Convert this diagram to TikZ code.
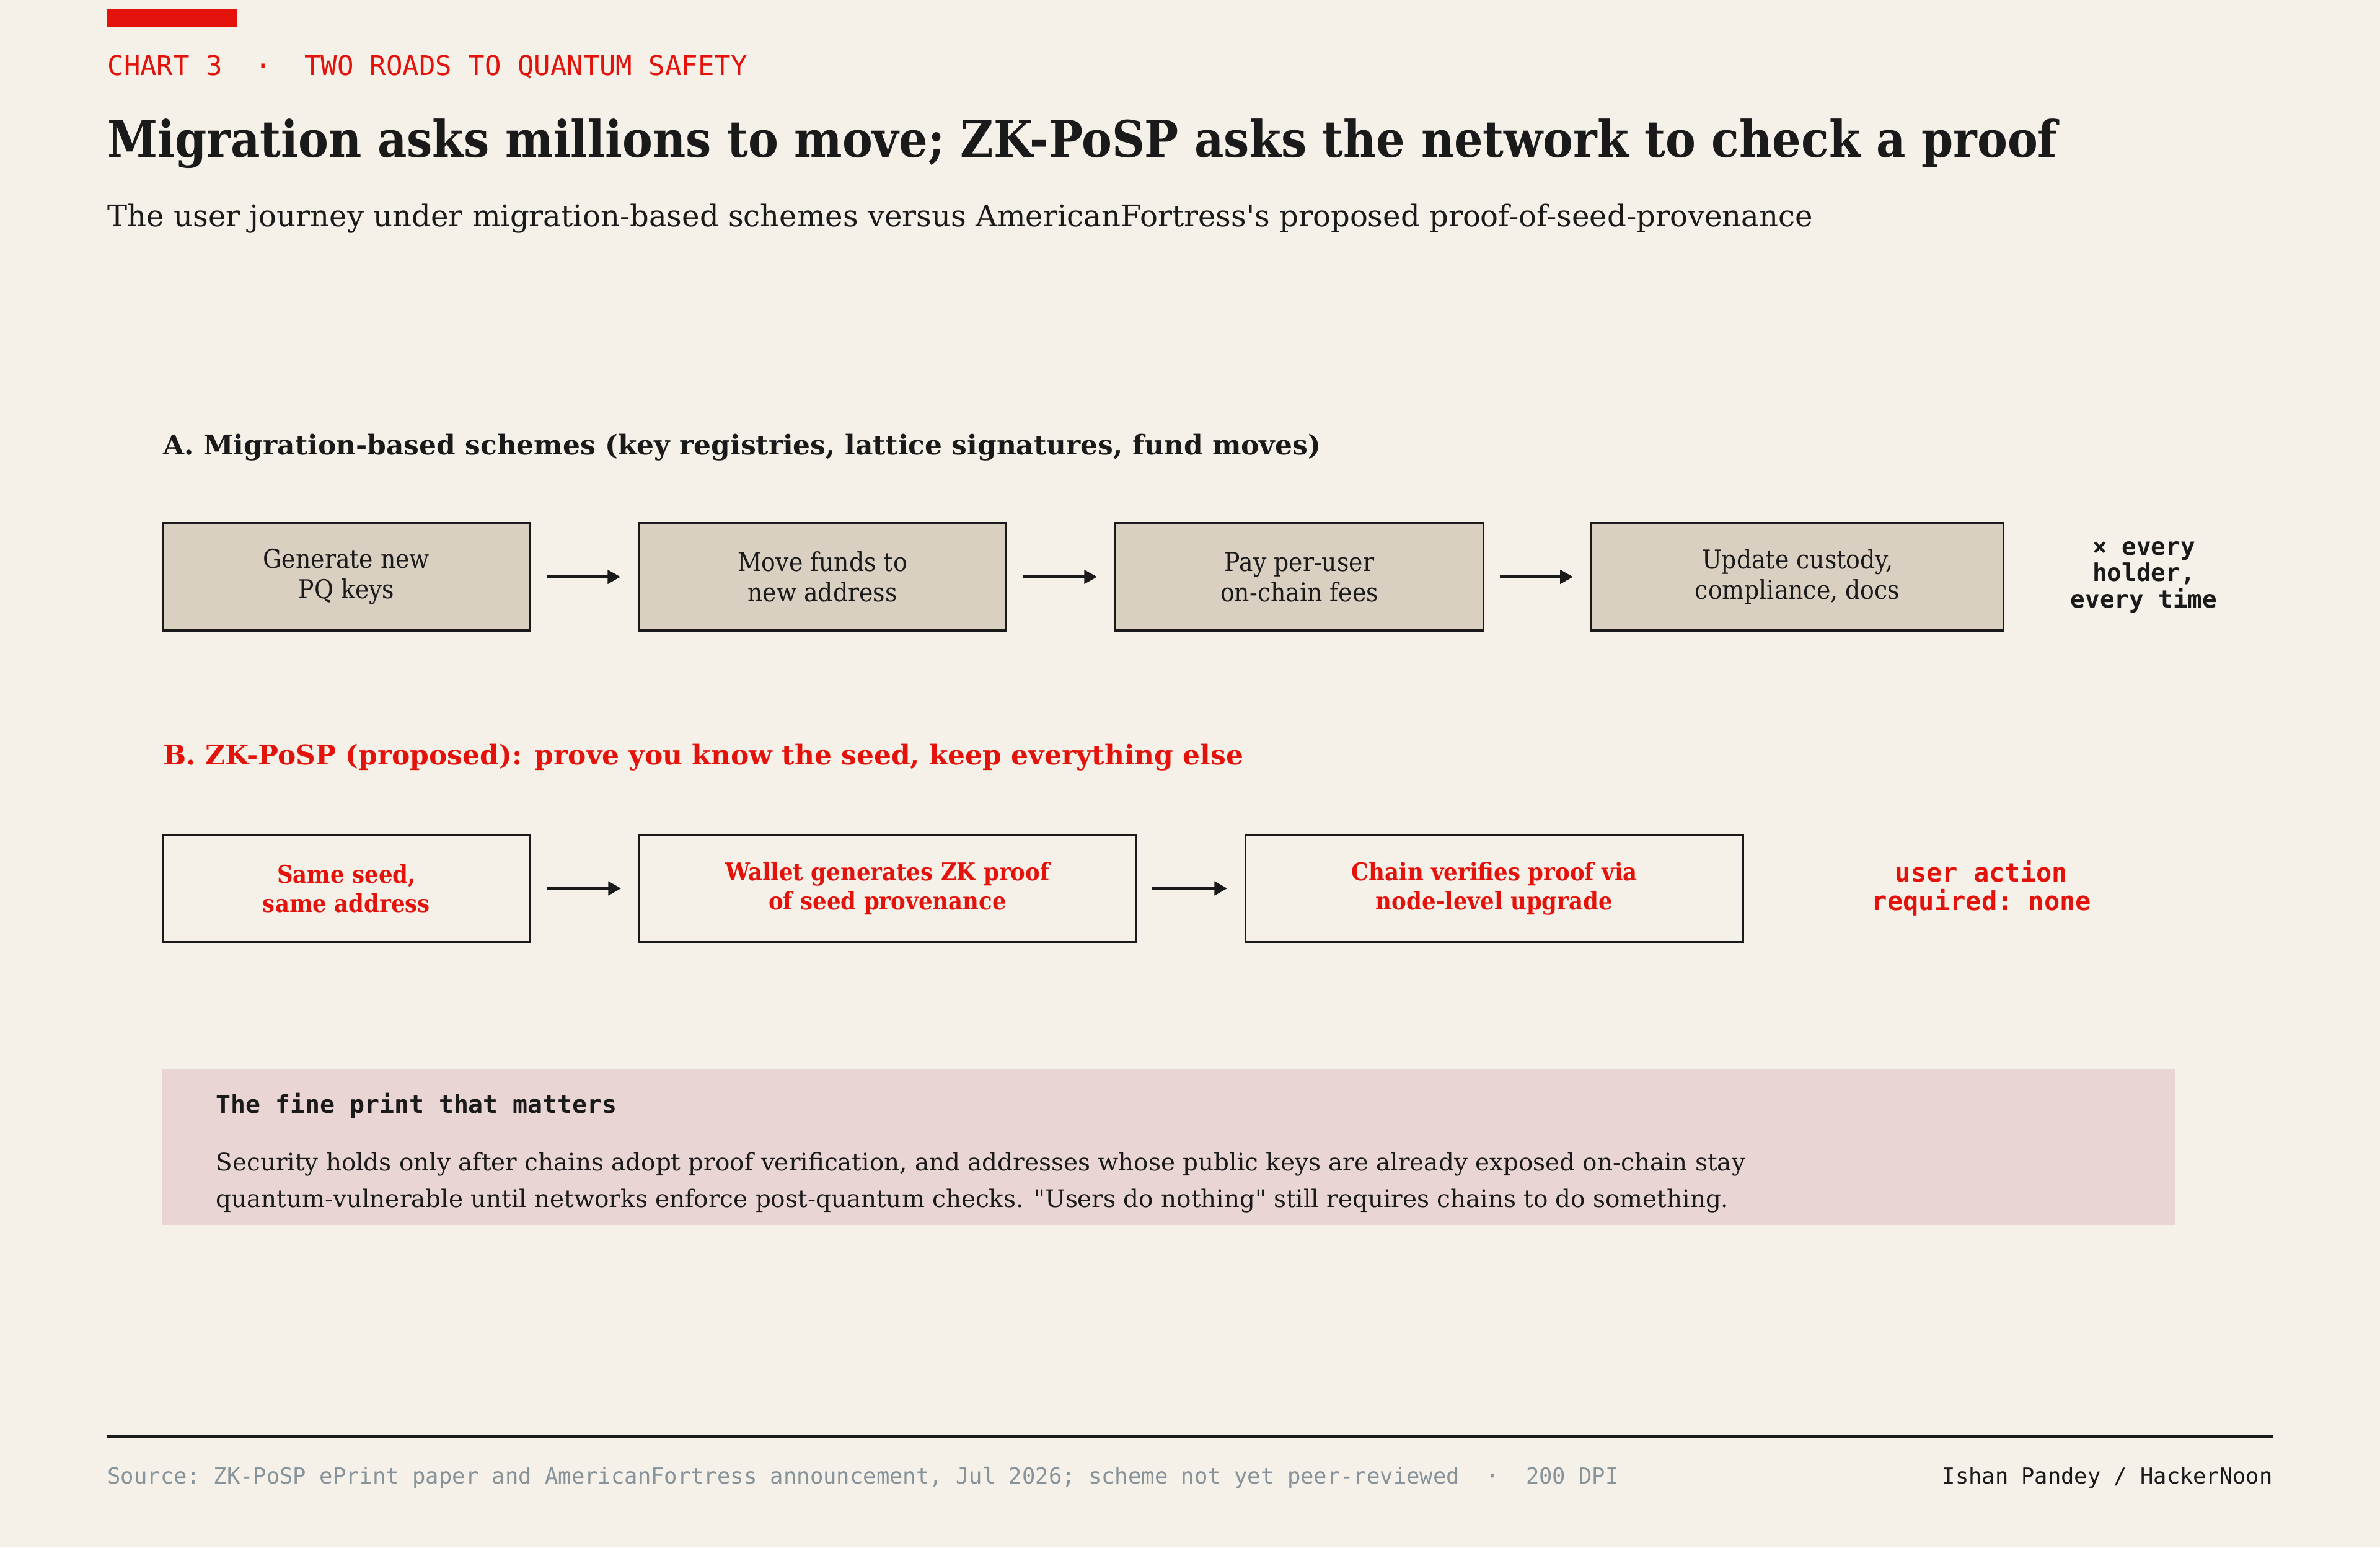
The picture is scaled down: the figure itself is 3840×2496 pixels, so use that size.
\documentclass[tikz,border=0pt]{standalone}
\usepackage{fontspec}
\setmainfont{DejaVu Serif}
\setmonofont{DejaVu Sans Mono}
\newfontfamily\condfont[FakeStretch=0.9]{DejaVu Serif}
\usetikzlibrary{arrows.meta}
\definecolor{bg}{HTML}{F5F0E8}
\definecolor{boxA}{HTML}{D9D0C1}
\definecolor{fine}{HTML}{E9D5D3}
\definecolor{accent}{HTML}{E3120B}
\definecolor{ink}{HTML}{1A1A1A}
\definecolor{foot}{HTML}{86939A}
\begin{document}
\begin{tikzpicture}[x=0.005in,y=-0.005in,
  txt/.style={inner sep=0pt, anchor=base west, text=ink},
  stepbox/.style={draw=ink, line width=1.2pt, inner sep=0pt, minimum height=62.5pt, align=center, text=ink,
     font=\condfont\fontsize{15.2}{17.7}\selectfont},
  stepA/.style={stepbox, fill=boxA},
  stepB/.style={stepbox, fill=bg, text=accent, font=\condfont\bfseries\fontsize{14.3}{17.1}\selectfont},
  flow/.style={draw=ink, line width=1.5pt, -{Triangle[length=7.5pt,width=8pt]}, shorten <=9pt, shorten >=10pt}
]
\useasboundingbox[fill=bg] (0,0) rectangle (3840,2496);
% header
\fill[accent] (173,15) rectangle (383,44);
\node[txt, text=accent, font=\ttfamily\fontsize{15.9}{18}\selectfont] (kicker) at (173,121) {CHART 3\ \ ·\ \ TWO ROADS TO QUANTUM SAFETY};
\node[txt, font=\condfont\bfseries\fontsize{29.45}{33}\selectfont] (title) at (173,253) {Migration asks millions to move; ZK-PoSP asks the network to check a proof};
\node[txt, font=\fontsize{17.4}{20}\selectfont] (subtitle) at (173,365) {The user journey under migration-based schemes versus AmericanFortress\textquotesingle s proposed proof-of-seed-provenance};
% section A
\node[txt, font=\bfseries\fontsize{15.9}{18}\selectfont] (headA) at (263,733) {A. Migration-based schemes (key registries, lattice signatures, fund moves)};
\node[stepA, minimum width=214.6pt] (a1) at (559,930.5) {Generate new\\PQ keys};
\node[stepA, minimum width=214.6pt] (a2) at (1327,930.5) {Move funds to\\new address};
\node[stepA, minimum width=215pt] (a3) at (2096.5,930.5) {Pay per-user\\on-chain fees};
\node[stepA, minimum width=240.7pt] (a4) at (2900,930.5) {Update custody,\\compliance, docs};
\draw[flow] (a1) -- (a2);
\draw[flow] (a2) -- (a3);
\draw[flow] (a3) -- (a4);
\node[inner sep=0pt, align=center, text=ink, font=\ttfamily\bfseries\fontsize{14.2}{15.4}\selectfont] (everyA) at (3459,931) {× every\\holder,\\every time};
% section B
\node[txt, text=accent, font=\bfseries\fontsize{15.9}{18}\selectfont] (headB) at (263,1233) {B. ZK-PoSP (proposed): prove you know the seed, keep everything else};
\node[stepB, minimum width=214.6pt] (b1) at (559,1433) {Same seed,\\same address};
\node[stepB, minimum width=289.8pt] (b2) at (1432,1433) {Wallet generates ZK proof\\of seed provenance};
\node[stepB, minimum width=290.5pt] (b3) at (2411,1433) {Chain verifies proof via\\node-level upgrade};
\draw[flow] (b1) -- (b2);
\draw[flow] (b2) -- (b3);
\node[inner sep=0pt, align=center, text=accent, font=\ttfamily\bfseries\fontsize{15.2}{16.6}\selectfont] (noneB) at (3197,1433) {user action\\required: none};
% fine print
\fill[fine] (262,1725) rectangle (3510,1976);
\node[txt, font=\ttfamily\bfseries\fontsize{14.4}{16}\selectfont] (fineT) at (348,1795) {The fine print that matters};
\node[txt, font=\fontsize{14.07}{16}\selectfont] (fine1) at (348,1888) {Security holds only after chains adopt proof verification, and addresses whose public keys are already exposed on-chain stay};
\node[txt, font=\fontsize{14.07}{16}\selectfont] (fine2) at (348,1947) {quantum-vulnerable until networks enforce post-quantum checks. \textquotedbl Users do nothing\textquotedbl\ still requires chains to do something.};
% footer
\draw[ink, line width=1.3pt] (173,2317) -- (3667,2317);
\node[txt, text=foot, font=\ttfamily\fontsize{12.85}{14}\selectfont] (src) at (173,2393) {Source: ZK-PoSP ePrint paper and AmericanFortress announcement, Jul 2026; scheme not yet peer-reviewed\ \ ·\ \ 200 DPI};
\node[txt, anchor=base east, font=\ttfamily\fontsize{12.8}{14}\selectfont] (credit) at (3667,2393) {Ishan Pandey / HackerNoon};
\end{tikzpicture}
\end{document}
